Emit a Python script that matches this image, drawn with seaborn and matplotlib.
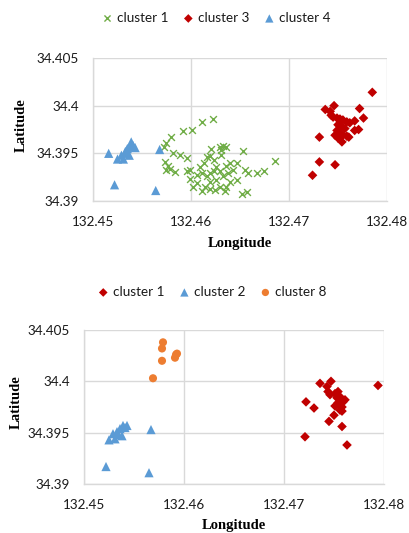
import matplotlib
matplotlib.use("Agg")
import matplotlib.pyplot as plt
import seaborn as sns
import pandas as pd

# ---------------- data: top chart ----------------
top_c1_lon = [132.4622, 132.4611, 132.4601, 132.4592, 132.4580, 132.4574, 132.4572, 132.4582,
              132.4589, 132.4596, 132.4573, 132.4577, 132.4579, 132.4574, 132.4584, 132.4596,
              132.4599, 132.4606, 132.4609, 132.4613, 132.4616, 132.4620, 132.4619, 132.4623,
              132.4630, 132.4633, 132.4636, 132.4631, 132.4626, 132.4630, 132.4636, 132.4640,
              132.4647, 132.4643, 132.4638, 132.4633, 132.4626, 132.4619, 132.4616, 132.4611,
              132.4606, 132.4614, 132.4611, 132.4619, 132.4624, 132.4630, 132.4635, 132.4640,
              132.4647, 132.4653, 132.4655, 132.4658, 132.4667, 132.4674, 132.4686, 132.4652,
              132.4657, 132.4602, 132.4599, 132.4619, 132.4623, 132.4636, 132.4631]
top_c1_lat = [34.3986, 34.3983, 34.3974, 34.3973, 34.3967, 34.3961, 34.3957, 34.3950,
              34.3948, 34.3945, 34.3941, 34.3937, 34.3934, 34.3932, 34.3930, 34.3931,
              34.3923, 34.3927, 34.3936, 34.3940, 34.3946, 34.3955, 34.3947, 34.3943,
              34.3957, 34.3958, 34.3957, 34.3948, 34.3936, 34.3931, 34.3937, 34.3940,
              34.3940, 34.3933, 34.3929, 34.3926, 34.3922, 34.3920, 34.3926, 34.3929,
              34.3919, 34.3915, 34.3910, 34.3913, 34.3912, 34.3915, 34.3910, 34.3920,
              34.3922, 34.3952, 34.3933, 34.3929, 34.3929, 34.3931, 34.3942, 34.3907,
              34.3909, 34.3915, 34.3933, 34.3929, 34.3931, 34.3915, 34.3954]

top_c3_lon = [132.4785, 132.4746, 132.4737, 132.4772, 132.4776, 132.4767, 132.4731, 132.4731,
              132.4747, 132.4724, 132.4771, 132.4767, 132.4761, 132.4742, 132.4745, 132.4749,
              132.4752, 132.4755, 132.4759, 132.4750, 132.4754, 132.4757, 132.4749, 132.4752,
              132.4755, 132.4750, 132.4754, 132.4759, 132.4747, 132.4762, 132.4743]
top_c3_lat = [34.4014, 34.4000, 34.3996, 34.3997, 34.3987, 34.3984, 34.3967, 34.3941,
              34.3938, 34.3927, 34.3975, 34.3974, 34.3967, 34.3994, 34.3988, 34.3987,
              34.3986, 34.3985, 34.3983, 34.3980, 34.3978, 34.3976, 34.3974, 34.3971,
              34.3969, 34.3966, 34.3962, 34.3968, 34.3969, 34.3982, 34.3990]

top_c4_lon = [132.4516, 132.4522, 132.4525, 132.4529, 132.4531, 132.4533, 132.4535, 132.4537,
              132.4539, 132.4541, 132.4543, 132.4538, 132.4534, 132.4568, 132.4564]
top_c4_lat = [34.3950, 34.3917, 34.3944, 34.3948, 34.3944, 34.3952, 34.3955, 34.3948,
              34.3962, 34.3958, 34.3956, 34.3957, 34.3950, 34.3954, 34.3911]

# ---------------- data: bottom chart ----------------
bot_c1_lon = [132.4794, 132.4747, 132.4736, 132.4722, 132.4730, 132.4721, 132.4763, 132.4758,
              132.4745, 132.4750, 132.4743, 132.4744, 132.4746, 132.4751, 132.4754, 132.4756,
              132.4753, 132.4758, 132.4759, 132.4754, 132.4751, 132.4758, 132.4756, 132.4758,
              132.4761]
bot_c1_lat = [34.3996, 34.4000, 34.3998, 34.3980, 34.3974, 34.3946, 34.3938, 34.3956,
              34.3961, 34.3967, 34.3995, 34.3990, 34.3987, 34.3988, 34.3990, 34.3985,
              34.3984, 34.3982, 34.3980, 34.3979, 34.3976, 34.3975, 34.3972, 34.3971,
              34.3982]

bot_c2_lon = [132.4522, 132.4565, 132.4567, 132.4525, 132.4531, 132.4529, 132.4533, 132.4536,
              132.4539, 132.4543, 132.4538, 132.4534, 132.4541]
bot_c2_lat = [34.3917, 34.3911, 34.3953, 34.3943, 34.3944, 34.3949, 34.3951, 34.3954,
              34.3957, 34.3957, 34.3947, 34.3948, 34.3955]

bot_c8_lon = [132.4579, 132.4578, 132.4578, 132.4569, 132.4592, 132.4591, 132.4593]
bot_c8_lat = [34.4038, 34.4032, 34.4020, 34.4003, 34.4026, 34.4023, 34.4027]

x_ticks = [132.45, 132.46, 132.47, 132.48]
x_tick_labels = ["132.45", "132.46", "132.47", "132.48"]
y_ticks = [34.39, 34.395, 34.40, 34.405]
y_tick_labels = ["34.39", "34.395", "34.4", "34.405"]

GREEN = "#70AD47"
RED = "#C00000"
BLUE = "#5B9BD5"
ORANGE = "#ED7D31"
GRID = "#D9D9D9"
TEXT = "#1a1a1a"

sns.set_style("white")
plt.rcParams["font.family"] = ["Lato", "DejaVu Sans"]

fig = plt.figure(figsize=(4.1, 5.33), dpi=100)
ax1 = fig.add_axes([93 / 410, 1 - 201 / 533, 294 / 410, 143 / 533])
ax2 = fig.add_axes([84 / 410, 1 - 484 / 533, 300 / 410, 154 / 533])


def draw(ax, series):
    for lon, lat, label, color, marker, size in series:
        df = pd.DataFrame({"lon": lon, "lat": lat})
        kw = dict(data=df, x="lon", y="lat", ax=ax, color=color, marker=marker,
                  s=size, label=label, zorder=3)
        if marker == "x":
            sns.scatterplot(**kw, linewidth=1.0)
        else:
            sns.scatterplot(**kw, edgecolor="none")


def style(ax, xlabel_y, ylabel_x):
    ax.set_xlim(132.45, 132.48)
    ax.set_ylim(34.39, 34.405)
    ax.set_xticks(x_ticks)
    ax.set_xticklabels(x_tick_labels)
    ax.set_yticks(y_ticks)
    ax.set_yticklabels(y_tick_labels)
    ax.grid(True, color=GRID, linewidth=1.0, zorder=0)
    ax.set_axisbelow(True)
    for s in ["top", "right"]:
        ax.spines[s].set_visible(False)
    for s in ["left", "bottom"]:
        ax.spines[s].set_color(GRID)
        ax.spines[s].set_linewidth(1.0)
    ax.tick_params(axis="both", length=0, labelsize=9.7, colors=TEXT)
    ax.tick_params(axis="x", pad=11)
    ax.tick_params(axis="y", pad=10)
    ax.set_xlabel("Longitude", fontfamily="Liberation Serif", fontweight="bold",
                  fontsize=10.5, color="black")
    ax.set_ylabel("Latitude", fontfamily="Liberation Serif", fontweight="bold",
                  fontsize=10.5, color="black")
    ax.xaxis.set_label_coords(0.5, xlabel_y)
    ax.yaxis.set_label_coords(ylabel_x, 0.53)
    if ax.legend_:
        ax.legend_.remove()


draw(ax1, [
    (top_c1_lon, top_c1_lat, "cluster 1", GREEN, "x", 24),
    (top_c3_lon, top_c3_lat, "cluster 3", RED, "D", 24),
    (top_c4_lon, top_c4_lat, "cluster 4", BLUE, "^", 44),
])
h1, l1 = ax1.get_legend_handles_labels()
style(ax1, -0.255, -0.222)

draw(ax2, [
    (bot_c1_lon, bot_c1_lat, "cluster 1", RED, "D", 24),
    (bot_c2_lon, bot_c2_lat, "cluster 2", BLUE, "^", 44),
    (bot_c8_lon, bot_c8_lat, "cluster 8", ORANGE, "o", 34),
])
h2, l2 = ax2.get_legend_handles_labels()
style(ax2, -0.23, -0.205)

leg_kw = dict(loc="center", ncol=3, frameon=False, fontsize=9.7, handletextpad=0.0,
              columnspacing=0.8, markerscale=0.9, labelcolor=TEXT, handlelength=1.4)
fig.legend(h1, l1, bbox_to_anchor=(214 / 410, 1 - 18 / 533), **leg_kw)
fig.legend(h2, l2, bbox_to_anchor=(210 / 410, 1 - 292 / 533), **leg_kw)

fig.savefig("out.png", dpi=100)
